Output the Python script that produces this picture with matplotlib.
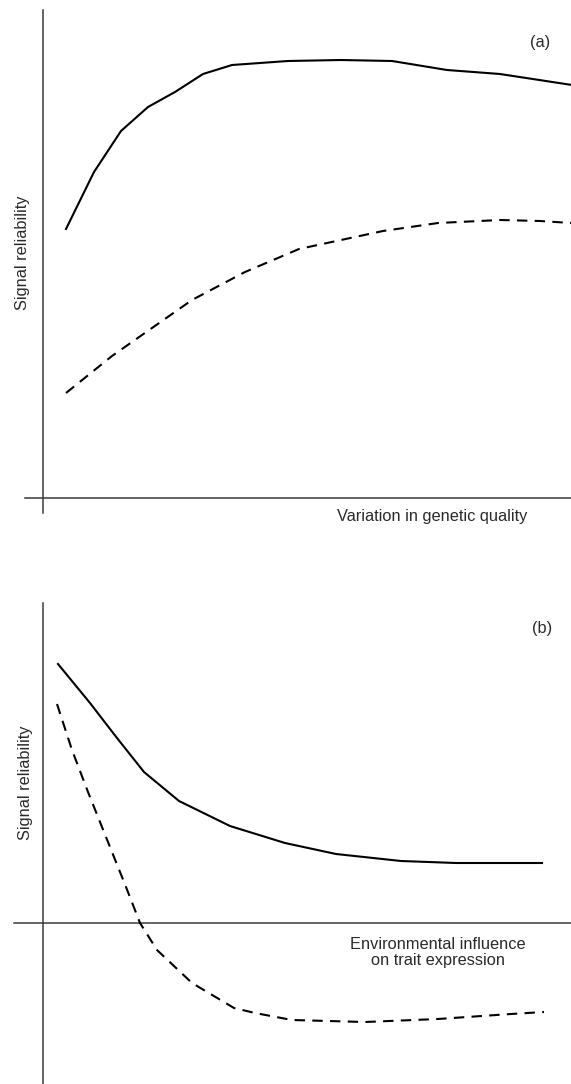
import matplotlib.pyplot as plt

plt.rcParams["font.family"] = ["Liberation Sans", "DejaVu Sans"]

# (a) reliability against variation in genetic quality
qual_x = [2.3, 5.1, 7.8, 10.5, 13.2, 16.0, 18.9, 24.5, 29.8, 34.9, 40.4, 45.7, 52.9]
qual_solid = [26.9, 32.6, 36.7, 39.1, 40.6, 42.4, 43.3, 43.7, 43.8, 43.7, 42.8, 42.4, 41.3]
qual_x_dash = [2.3, 6.9, 9.9, 14.9, 20.2, 25.6, 34.0, 39.5, 45.7, 49.7, 52.8]
qual_dashed = [10.5, 14.2, 16.3, 19.8, 22.6, 24.9, 26.7, 27.5, 27.8, 27.7, 27.5]

# (b) reliability against environmental influence
env_x = [1.5, 4.7, 7.4, 10.1, 13.6, 18.7, 24.2, 29.3, 35.8, 41.3, 46.4, 49.9]
env_solid = [25.9, 22.0, 18.5, 15.1, 12.2, 9.7, 8.0, 6.9, 6.2, 6.0, 6.0, 6.0]
env_x_dash = [1.4, 2.9, 4.5, 6.3, 8.3, 9.7, 11.4, 14.9, 19.1, 21.2, 24.9, 32.2, 39.5, 46.8, 50.1]
env_dashed = [21.9, 17.3, 13.1, 8.6, 3.6, 0.0, -2.7, -6.0, -8.5, -9.0, -9.7, -9.9, -9.6, -9.1, -8.9]

W, H = 571, 1084
fig = plt.figure(figsize=(W / 100, H / 100), dpi=100)

AXC = "#3a3a3a"
TXT = "#2a2a2a"
DASH = (0, (5, 3.5))
FS = 11.8


def panel(top_px, bottom_px, origin_py):
    ax = fig.add_axes([0, 1 - bottom_px / H, 1, (bottom_px - top_px) / H])
    ax.set_xlim(-4.3, (W - 43) / 10)
    ax.set_ylim((origin_py - bottom_px) / 10, (origin_py - top_px) / 10)
    ax.axis("off")
    return ax


ax1 = panel(0, 540, 498)
ax1.plot([0, 0], [48.8, -1.5], color=AXC, lw=1.1)
ax1.plot([-1.8, 52.8], [0, 0], color=AXC, lw=1.1)
ax1.plot(qual_x, qual_solid, color="black", lw=1.5)
ax1.plot(qual_x_dash, qual_dashed, color="black", lw=1.5, linestyle=DASH)
ax1.text(49.7, 45.5, "(a)", fontsize=FS, color=TXT, ha="center", va="center")
ax1.text(38.9, -1.9, "Variation in genetic quality", fontsize=FS, color=TXT,
         ha="center", va="center")
ax1.text(-2.0, 24.5, "Signal reliability", fontsize=FS, color=TXT,
         rotation=90, ha="center", va="center")

ax2 = panel(590, H, 923)
ax2.plot([0, 0], [32.0, -16.2], color=AXC, lw=1.1)
ax2.plot([-2.9, 52.8], [0, 0], color=AXC, lw=1.1)
ax2.plot(env_x, env_solid, color="black", lw=1.5)
ax2.plot(env_x_dash, env_dashed, color="black", lw=1.5, linestyle=DASH)
ax2.text(49.9, 29.5, "(b)", fontsize=FS, color=TXT, ha="center", va="center")
ax2.text(39.5, -2.95, "Environmental influence\non trait expression", fontsize=FS,
         color=TXT, ha="center", va="center", linespacing=1.05)
ax2.text(-1.75, 14.0, "Signal reliability", fontsize=FS, color=TXT,
         rotation=90, ha="center", va="center")

fig.savefig("out.png", dpi=100)
